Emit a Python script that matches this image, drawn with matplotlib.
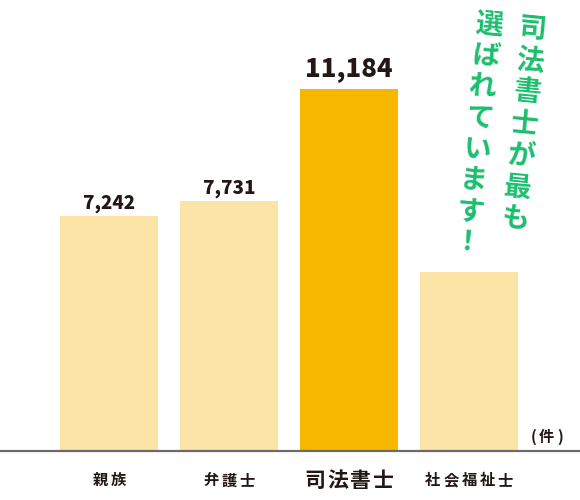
import numpy as np
import matplotlib
matplotlib.use('Agg')
import matplotlib.pyplot as plt

plt.rcParams['font.family'] = ['Noto Sans CJK JP', 'DejaVu Sans']

# データ
categories = ['親族', '弁護士', '司法書士', '社会福祉士']
values = [7242, 7731, 11184, 5530]
value_labels = ['7,242', '7,731', '11,184', '']
highlight = 2
unit = '(件)'
catch_right = '司法書士が最も'
catch_left = '選ばれています！'

light = '#fce4a6'
strong = '#f7b600'
dark = '#231815'
green = '#1cbe6f'

fig = plt.figure(figsize=(5.8, 5.0), dpi=100)
ax = fig.add_axes([0, 49.5 / 500, 1, 450.5 / 500])

x = np.arange(len(categories))
colors = [strong if i == highlight else light for i in x]
ax.bar(x, values, width=98 / 120, color=colors)

ax.set_xlim(-109 / 120, (580 - 109) / 120)
ax.set_ylim(0, 11184 * 450.5 / 361.5)

for s in ['top', 'left', 'right']:
    ax.spines[s].set_visible(False)
ax.spines['bottom'].set_color('#6b6b6b')
ax.spines['bottom'].set_linewidth(1.6)
ax.set_xticks([])
ax.set_yticks([])

# 数値ラベル
for i, (v, lab) in enumerate(zip(values, value_labels)):
    if not lab:
        continue
    big = i == highlight
    ax.annotate(lab, xy=(i, v), xytext=(0, 14 if big else 9),
                textcoords='offset points', ha='center', va='center',
                fontsize=18.5 if big else 13.5, fontweight='heavy', color=dark)

# カテゴリラベル (字間あり)
for i, cat in enumerate(categories):
    big = i == highlight
    pitch = 16.6 if big else 13.0
    n = len(cat)
    for k, ch in enumerate(cat):
        dx = (k - (n - 1) / 2) * pitch
        ax.annotate(ch, xy=(i, 0), xycoords=('data', 'axes fraction'),
                    xytext=(dx, -21.5), textcoords='offset points',
                    ha='center', va='center', fontsize=15 if big else 11,
                    fontweight='bold', color=dark)

# 単位 (件)
for ch, dx in zip(unit, [-33.5, -24.5, -14.5]):
    ax.annotate(ch, xy=(1, 0), xycoords='axes fraction', xytext=(dx, 9.5),
                textcoords='offset points', ha='center', va='center',
                fontsize=11, fontweight='bold', color=dark)

# キャッチコピー (縦書き・傾き)
def vertical(text, start, end):
    n = len(text)
    xs = np.linspace(start[0], end[0], n)
    ys = np.linspace(start[1], end[1], n)
    for ch, px, py in zip(text, xs, ys):
        fig.text(px / 580, 1 - py / 500, ch, ha='center', va='center',
                 rotation=-5.5, fontsize=20, fontweight='bold', color=green)

vertical(catch_right, (533, 29), (515, 220))
vertical(catch_left, (489, 25), (467, 243))

fig.savefig('out.png', dpi=100)
